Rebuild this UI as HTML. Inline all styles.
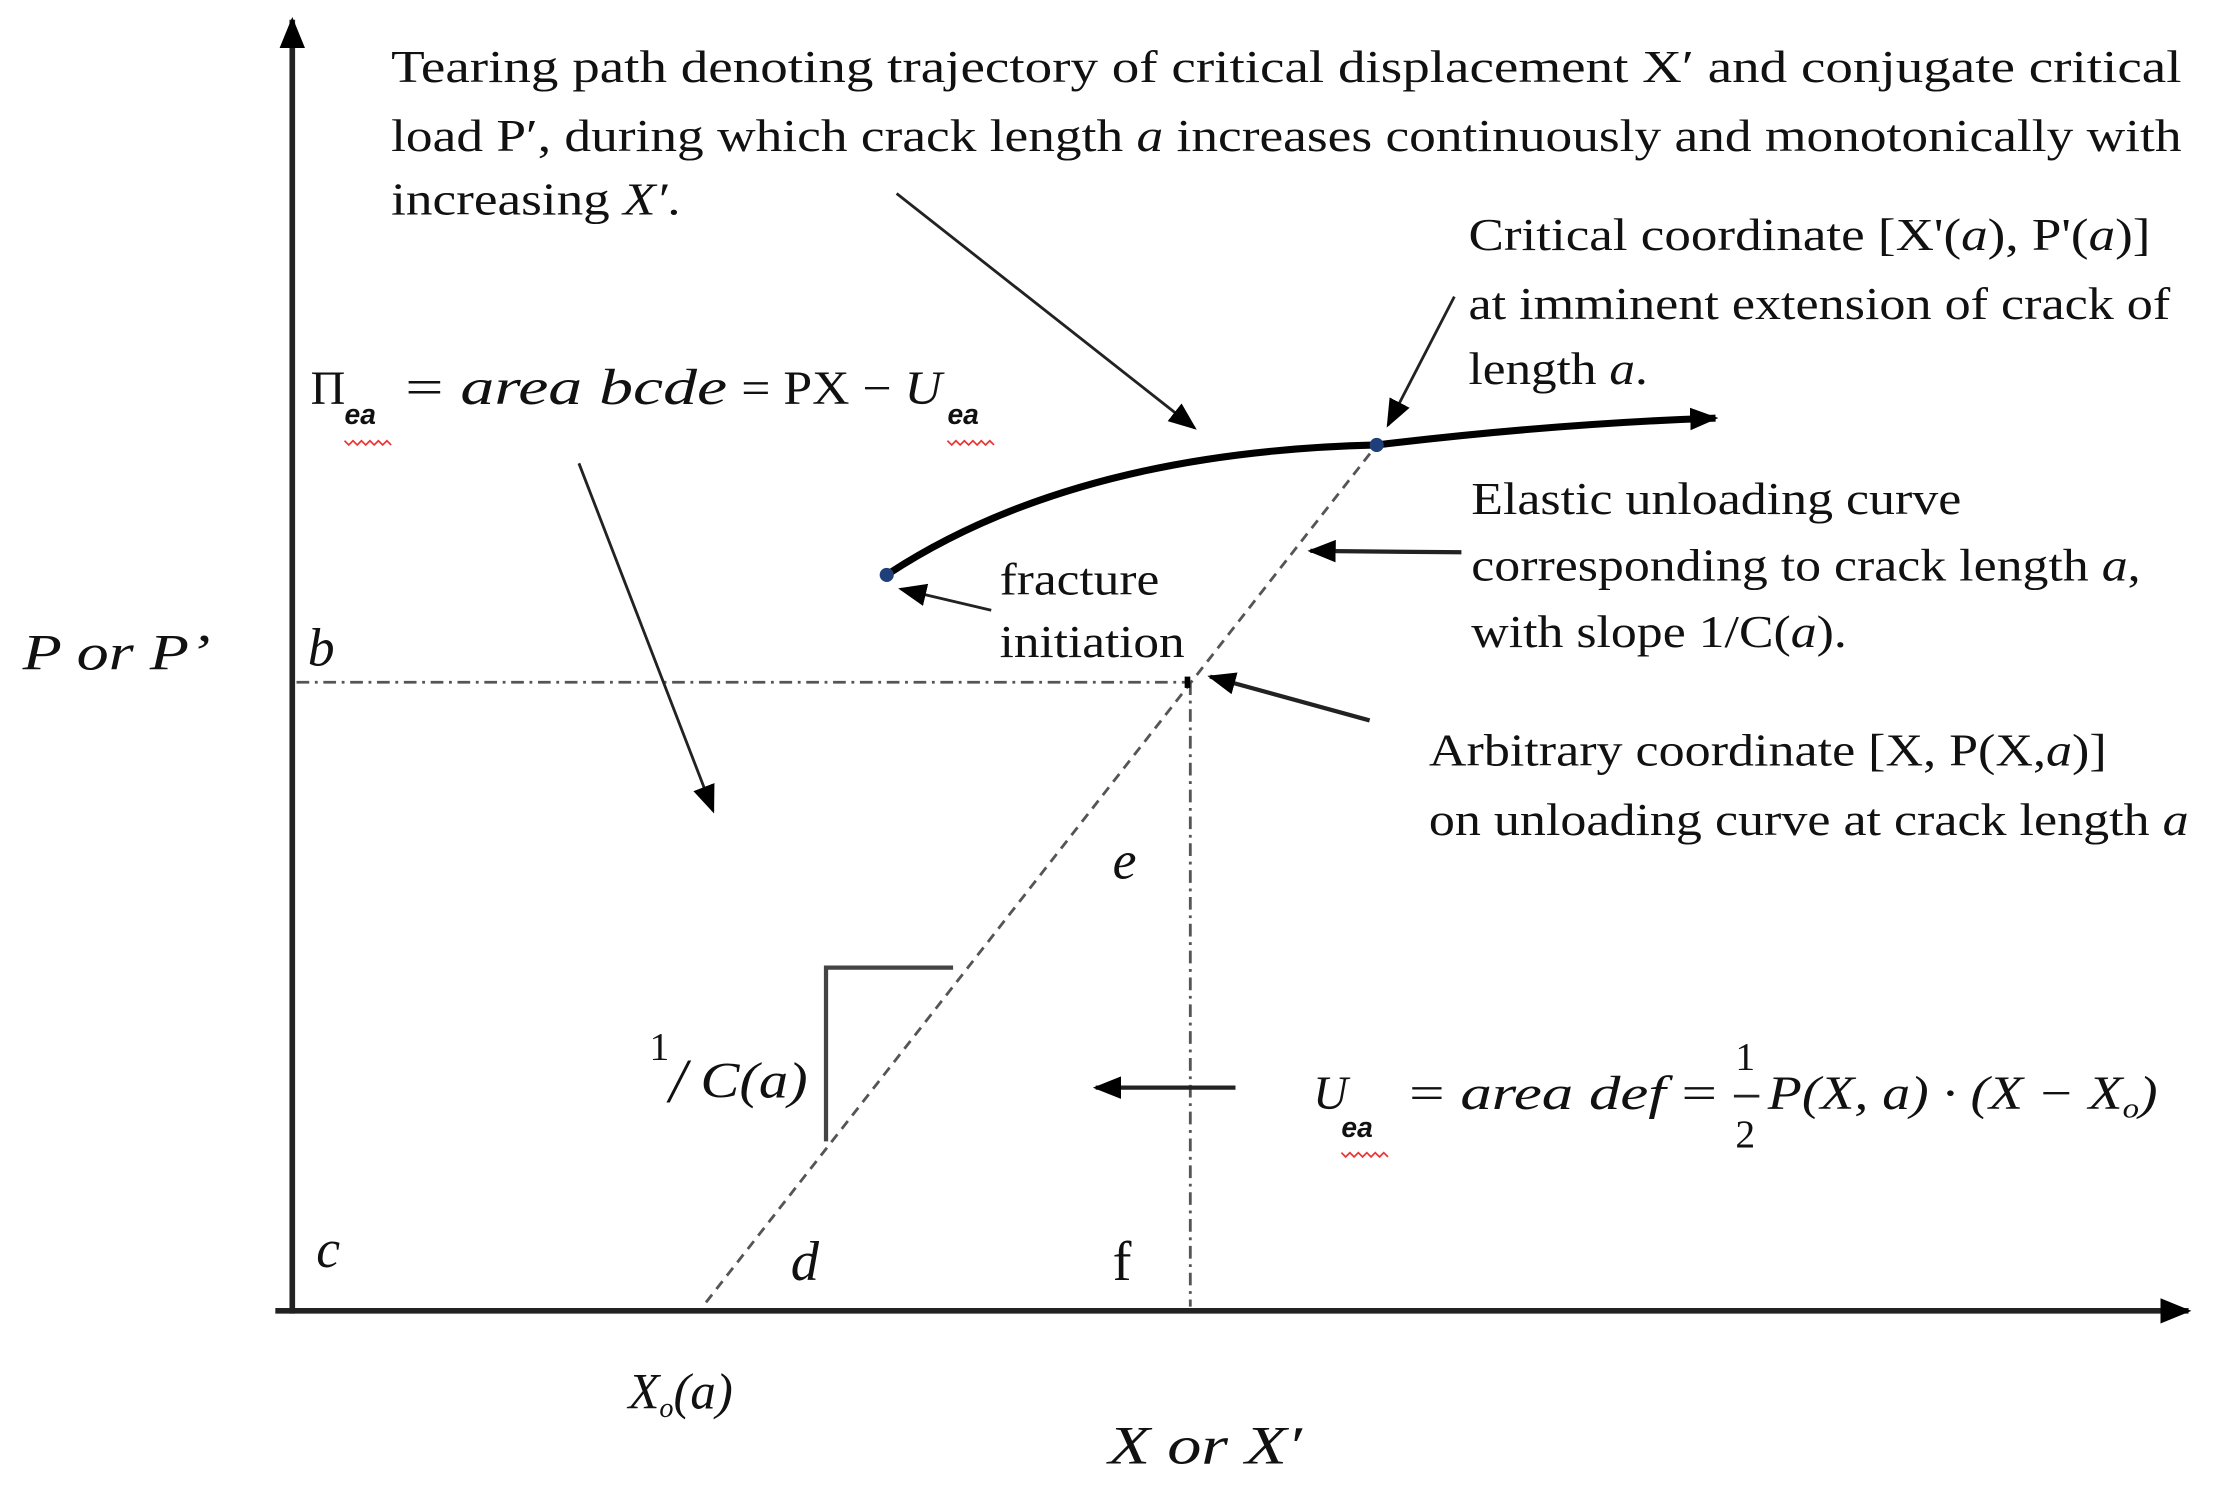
<!DOCTYPE html>
<html><head><meta charset="utf-8"><style>
html,body{margin:0;padding:0;background:#fff;}
svg{display:block;}
text{font-family:"Liberation Serif",serif;fill:#111;}
.sm{font-family:"Liberation Sans",sans-serif;font-style:italic;}
</style></head><body>
<svg width="2214" height="1486" viewBox="0 0 1568 1052" preserveAspectRatio="none" xmlns="http://www.w3.org/2000/svg">
<defs>
<marker id="ah2" markerWidth="20" markerHeight="16" refX="18" refY="8" orient="auto" markerUnits="userSpaceOnUse" viewBox="0 0 20 16">
<path d="M0,0 L20,8 L0,16 z" fill="#000"/></marker>
<marker id="ah3" markerWidth="22" markerHeight="18" refX="20" refY="9" orient="auto" markerUnits="userSpaceOnUse" viewBox="0 0 22 18">
<path d="M0,0 L22,9 L0,18 z" fill="#000"/></marker>
</defs>
<line x1="207" y1="930" x2="207" y2="14" stroke="#222" stroke-width="4" marker-end="url(#ah3)"/>
<line x1="195" y1="928" x2="1550" y2="928" stroke="#222" stroke-width="4" marker-end="url(#ah3)"/>
<line x1="210" y1="483" x2="842" y2="483" stroke="#555" stroke-width="2" stroke-dasharray="9,4,2,4"/>
<line x1="843" y1="483" x2="843" y2="925" stroke="#555" stroke-width="2" stroke-dasharray="9,4,2,4"/>
<line x1="500" y1="922" x2="975" y2="315" stroke="#555" stroke-width="2" stroke-dasharray="7,5"/>
<polyline points="675,685 585,685 585,808" fill="none" stroke="#444" stroke-width="3"/>
<path d="M628,407 Q760,320 975,315 Q1100,300 1215,296" fill="none" stroke="#000" stroke-width="5" marker-end="url(#ah2)"/>
<circle cx="628" cy="407" r="5" fill="#1f3f7a"/>
<circle cx="975" cy="315" r="5" fill="#1f3f7a"/>
<rect x="839" y="479" width="4" height="8" fill="#000"/>
<g stroke="#222" stroke-width="2" fill="none">
<line x1="635" y1="137" x2="846" y2="303" marker-end="url(#ah2)"/>
<line x1="1030" y1="210" x2="983" y2="301" marker-end="url(#ah2)"/>
<line x1="410" y1="328" x2="505" y2="574" marker-end="url(#ah2)"/>
<line x1="702" y1="432" x2="638" y2="417" marker-end="url(#ah2)"/>
<line x1="1035" y1="391" x2="928" y2="390" stroke-width="3" marker-end="url(#ah2)"/>
<line x1="970" y1="510" x2="857" y2="479" stroke-width="3" marker-end="url(#ah2)"/>
<line x1="875" y1="770" x2="776" y2="770" stroke-width="3" marker-end="url(#ah2)"/>
</g>
<g font-size="32">
<text x="277" y="58" textLength="1268" lengthAdjust="spacingAndGlyphs">Tearing path denoting trajectory of critical displacement X′ and conjugate critical</text>
<text x="277" y="107" textLength="1268" lengthAdjust="spacingAndGlyphs">load P′, during which crack length <tspan font-style="italic">a</tspan> increases continuously and monotonically with</text>
<text x="277" y="152" textLength="205" lengthAdjust="spacingAndGlyphs">increasing <tspan font-style="italic">X′</tspan>.</text>
<text x="1040" y="177" textLength="483" lengthAdjust="spacingAndGlyphs">Critical coordinate [X'(<tspan font-style="italic">a</tspan>), P'(<tspan font-style="italic">a</tspan>)]</text>
<text x="1040" y="226" textLength="497" lengthAdjust="spacingAndGlyphs">at imminent extension of crack of</text>
<text x="1040" y="272" textLength="127" lengthAdjust="spacingAndGlyphs">length <tspan font-style="italic">a</tspan>.</text>
<text x="1042" y="364" textLength="347" lengthAdjust="spacingAndGlyphs">Elastic unloading curve</text>
<text x="1042" y="411" textLength="474" lengthAdjust="spacingAndGlyphs">corresponding to crack length <tspan font-style="italic">a</tspan>,</text>
<text x="1042" y="458" textLength="266" lengthAdjust="spacingAndGlyphs">with slope 1/C(<tspan font-style="italic">a</tspan>).</text>
<text x="708" y="421" textLength="113" lengthAdjust="spacingAndGlyphs">fracture</text>
<text x="708" y="465" textLength="131" lengthAdjust="spacingAndGlyphs">initiation</text>
<text x="1012" y="542" textLength="480" lengthAdjust="spacingAndGlyphs">Arbitrary coordinate [X, P(X,<tspan font-style="italic">a</tspan>)]</text>
<text x="1012" y="591" textLength="538" lengthAdjust="spacingAndGlyphs">on unloading curve at crack length <tspan font-style="italic">a</tspan></text>
</g>
<text x="220" y="286" font-size="34">Π</text>
<text x="244" y="300" font-size="20" class="sm" font-weight="bold">ea</text>
<text x="287" y="286" font-size="36" font-style="italic" textLength="228" lengthAdjust="spacingAndGlyphs"><tspan font-style="normal">=</tspan>  area bcde</text>
<text x="525" y="286" font-size="34" textLength="142" lengthAdjust="spacingAndGlyphs">= PX − <tspan font-style="italic">U</tspan></text>
<text x="671" y="300" font-size="20" class="sm" font-weight="bold">ea</text>
<path d="M244,312 l3,3 l3,-3 l3,3 l3,-3 l3,3 l3,-3 l3,3 l3,-3 l3,3 l3,-3 l3,3" stroke="#e33" stroke-width="1.2" fill="none"/>
<path d="M671,312 l3,3 l3,-3 l3,3 l3,-3 l3,3 l3,-3 l3,3 l3,-3 l3,3 l3,-3 l3,3" stroke="#e33" stroke-width="1.2" fill="none"/>
<text x="16" y="474" font-size="36" font-style="italic" textLength="133" lengthAdjust="spacingAndGlyphs">P or P’</text>
<text x="218" y="471" font-size="38" font-style="italic">b</text>
<text x="788" y="622" font-size="38" font-style="italic">e</text>
<text x="224" y="897" font-size="38" font-style="italic">c</text>
<text x="560" y="906" font-size="40" font-style="italic">d</text>
<text x="788" y="906" font-size="40">f</text>
<text x="445" y="997" font-size="36" font-style="italic">X<tspan font-size="20" dy="6">o</tspan><tspan dy="-6">(a)</tspan></text>
<text x="785" y="1036" font-size="38" font-style="italic" textLength="137" lengthAdjust="spacingAndGlyphs">X or X′</text>
<text x="460" y="750" font-size="28">1</text>
<text x="474" y="780" font-size="44" font-style="italic">/</text>
<text x="496" y="777" font-size="36" font-style="italic" textLength="76" lengthAdjust="spacingAndGlyphs">C(a)</text>
<text x="930" y="785" font-size="34" font-style="italic">U</text>
<text x="950" y="805" font-size="20" class="sm" font-weight="bold">ea</text>
<path d="M950,816 l3,3 l3,-3 l3,3 l3,-3 l3,3 l3,-3 l3,3 l3,-3 l3,3 l3,-3 l3,3" stroke="#e33" stroke-width="1.2" fill="none"/>
<text x="998" y="785" font-size="34" font-style="italic" textLength="218" lengthAdjust="spacingAndGlyphs"><tspan font-style="normal">=</tspan> area def <tspan font-style="normal">=</tspan></text>
<text x="1229" y="757" font-size="28">1</text>
<line x1="1228" y1="776" x2="1246" y2="776" stroke="#222" stroke-width="2"/>
<text x="1229" y="812" font-size="28">2</text>
<text x="1252" y="785" font-size="34" font-style="italic" textLength="276" lengthAdjust="spacingAndGlyphs">P(X, a) · (X − X<tspan font-size="20" dy="6">o</tspan><tspan dy="-6">)</tspan></text>
</svg>
</body></html>
